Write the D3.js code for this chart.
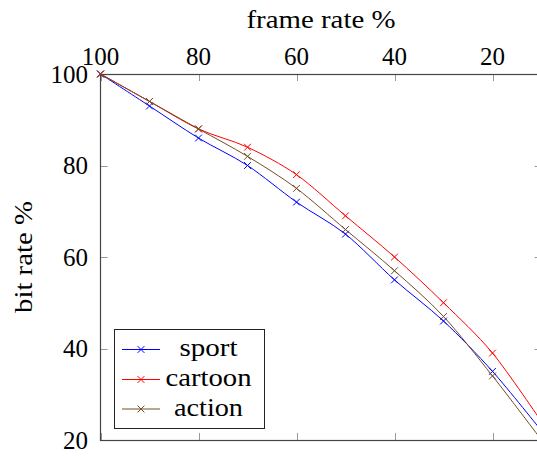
<!DOCTYPE html>
<html>
<head>
<meta charset="utf-8">
<script src="https://cdn.jsdelivr.net/npm/d3@7"></script>
<style>
  html, body { margin: 0; padding: 0; background: #fff; overflow: hidden; }
  svg { display: block; }
  svg text { font-family: 'Liberation Serif', 'DejaVu Serif', 'Times New Roman', Times, serif; }
</style>
</head>
<body>
<svg id="chart" width="537" height="456"></svg>
<script>
// ---- data ----
const frameRates = [100, 90, 80, 70, 60, 50, 40, 30, 20, 10];
const sport   = [100, 93, 86, 80, 72, 65, 55, 46, 35, 22];
const cartoon = [100, 94, 88, 84, 78, 69, 60, 50, 39, 24];
const action  = [100, 94, 88, 82, 75, 66, 57, 47, 34, 20];
const seriesNames = ["sport", "cartoon", "action"];
const xTicks = [100, 80, 60, 40, 20];
const yTicks = [20, 40, 60, 80, 100];

const series = [
  { name: seriesNames[0], values: sport,   color: "#0000ff" },
  { name: seriesNames[1], values: cartoon, color: "#ff0000" },
  { name: seriesNames[2], values: action,  color: "#734d26" }
];

// ---- layout ----
const pLeft = 100.5, pRight = 541.5, pTop = 74, pBottom = 440;
const svg = d3.select("#chart");
const FONT = "'Liberation Serif', 'DejaVu Serif', serif";

const x = d3.scaleLinear().domain([100, 10]).range([pLeft, pRight]);
const y = d3.scaleLinear().domain([20, 100]).range([pBottom, pTop]);

const tickLen = 7;
const axisColor = "#444";
const tickColor = "#999";

// clip
svg.append("defs").append("clipPath").attr("id", "plotclip")
  .append("rect").attr("x", pLeft - 6).attr("y", pTop - 6)
  .attr("width", pRight - pLeft + 12).attr("height", pBottom - pTop + 12);

// ticks (inward, mirrored)
const gt = svg.append("g").attr("stroke", tickColor).attr("stroke-width", 1);
xTicks.forEach(v => {
  const px = Math.round(x(v)) + 0.5;
  gt.append("line").attr("x1", px).attr("x2", px).attr("y1", pTop).attr("y2", pTop + tickLen);
  gt.append("line").attr("x1", px).attr("x2", px).attr("y1", pBottom).attr("y2", pBottom - tickLen);
});
yTicks.forEach(v => {
  const py = Math.round(y(v)) + 0.5;
  gt.append("line").attr("x1", pLeft).attr("x2", pLeft + tickLen).attr("y1", py).attr("y2", py);
  gt.append("line").attr("x1", pRight).attr("x2", pRight - tickLen).attr("y1", py).attr("y2", py);
});

// frame
svg.append("rect")
  .attr("x", pLeft).attr("y", pTop + 0.5)
  .attr("width", pRight - pLeft).attr("height", pBottom - pTop)
  .attr("fill", "none").attr("stroke", axisColor).attr("stroke-width", 1.2);

// lines
const line = d3.line()
  .x((d, i) => x(frameRates[i]))
  .y(d => y(d))
  .curve(d3.curveCardinal.tension(0.08));

const plot = svg.append("g").attr("clip-path", "url(#plotclip)");
const ms = 3.4;
series.forEach(s => {
  plot.append("path")
    .attr("d", line(s.values))
    .attr("fill", "none")
    .attr("stroke", s.color)
    .attr("stroke-width", 1);
  s.values.forEach((v, i) => {
    const cx = x(frameRates[i]), cy = y(v);
    plot.append("path")
      .attr("d", `M${cx - ms},${cy - ms}L${cx + ms},${cy + ms}M${cx - ms},${cy + ms}L${cx + ms},${cy - ms}`)
      .attr("stroke", s.color).attr("stroke-width", 1).attr("fill", "none");
  });
});

// tick labels
const fs = 25;
xTicks.forEach(v => {
  svg.append("text").attr("x", x(v)).attr("y", 65)
    .attr("font-family", FONT)
    .attr("text-anchor", "middle").attr("font-size", fs).attr("fill", "#000")
    .text(v);
});
yTicks.forEach(v => {
  svg.append("text").attr("x", 88).attr("y", y(v)).attr("dy", "0.35em")
    .attr("font-family", FONT)
    .attr("text-anchor", "end").attr("font-size", fs).attr("fill", "#000")
    .text(v);
});

// axis titles
svg.append("text")
  .attr("x", (pLeft + pRight) / 2).attr("y", 28)
  .attr("font-family", FONT)
  .attr("text-anchor", "middle").attr("font-size", fs)
  .attr("textLength", 149).attr("lengthAdjust", "spacingAndGlyphs")
  .text("frame rate %");

svg.append("text")
  .attr("transform", `translate(32,${(pTop + pBottom) / 2}) rotate(-90)`)
  .attr("font-family", FONT)
  .attr("text-anchor", "middle").attr("font-size", fs)
  .attr("textLength", 112).attr("lengthAdjust", "spacingAndGlyphs")
  .text("bit rate %");

// legend
const lg = svg.append("g");
lg.append("rect")
  .attr("x", 114.5).attr("y", 329.5).attr("width", 150).attr("height", 99)
  .attr("fill", "#fff").attr("stroke", "#222").attr("stroke-width", 1);
const rowY = [349.5, 379.5, 409];
const textW = [58, 86, 69];
series.forEach((s, i) => {
  const ly = rowY[i];
  lg.append("line").attr("x1", 122).attr("x2", 160).attr("y1", ly).attr("y2", ly)
    .attr("stroke", s.color).attr("stroke-width", 1);
  const cx = 141;
  lg.append("path")
    .attr("d", `M${cx - ms},${ly - ms}L${cx + ms},${ly + ms}M${cx - ms},${ly + ms}L${cx + ms},${ly - ms}`)
    .attr("stroke", s.color).attr("stroke-width", 1);
  lg.append("text").attr("x", 208.5).attr("y", ly + 6.5)
    .attr("font-family", FONT)
    .attr("text-anchor", "middle").attr("font-size", fs)
    .attr("textLength", textW[i]).attr("lengthAdjust", "spacingAndGlyphs")
    .text(s.name);
});
</script>
</body>
</html>
